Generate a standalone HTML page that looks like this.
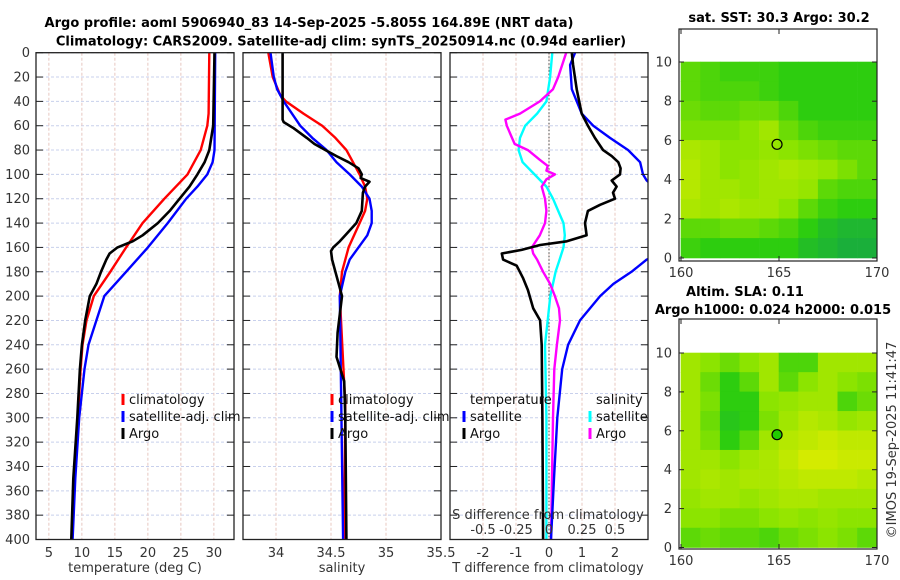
<!DOCTYPE html>
<html><head><meta charset="utf-8"><style>
body{margin:0;background:#fff;}
svg{display:block;font-family:"DejaVu Sans","Liberation Sans",sans-serif;}
.tk{font-size:13px;fill:#333;}
.tt{font-size:13px;font-weight:bold;fill:#000;}
.lg{font-size:13px;fill:#111;}
</style></head><body>
<svg id="c" width="900" height="580" viewBox="0 0 900 580"></svg>
<script>
// ---- data ----
const depthsT = [0,50,60,80,100,120,140,160,180,200,220,240,260,300,350,400];
const tempClim = [29.3,29.2,29.0,28.0,26.0,22.5,19.2,16.7,14.3,11.8,10.7,10.1,9.8,9.4,8.9,8.5];
const depthsTB = [0,80,90,100,110,120,140,160,180,200,220,240,260,300,350,400];
const tempSat = [30.2,30.1,29.8,29.0,27.5,25.8,23.0,20.0,16.7,13.4,12.2,11.0,10.4,9.6,9.0,8.6];
const depthsTA = [0,60,80,90,100,110,120,130,140,150,155,160,165,170,180,190,200,220,240,260,300,350,400];
const tempArgo = [30.1,29.9,29.3,28.6,27.5,26.3,24.8,23.3,21.5,19.2,17.7,15.4,14.2,13.7,12.9,12.2,11.2,10.5,10.0,9.7,9.3,8.7,8.4];

const depthsSC = [0,20,35,40,50,60,70,80,90,100,110,120,130,140,160,180,200,290,400];
const salClim = [33.93,33.97,34.04,34.09,34.25,34.42,34.54,34.64,34.70,34.76,34.81,34.83,34.81,34.76,34.66,34.60,34.58,34.63,34.62];
const depthsSB = [0,20,30,40,60,70,80,90,100,110,120,130,140,150,160,170,180,200,400];
const salSat = [33.95,33.98,34.01,34.07,34.22,34.33,34.46,34.55,34.67,34.78,34.85,34.87,34.87,34.83,34.75,34.67,34.63,34.58,34.61];
const depthsSA = [0,55,57,62,70,75,80,85,90,95,100,103,106,110,115,130,140,150,155,160,163,170,180,190,200,230,250,270,300,400];
const salArgo = [34.06,34.06,34.07,34.16,34.28,34.35,34.45,34.55,34.66,34.75,34.78,34.77,34.85,34.81,34.79,34.78,34.73,34.63,34.58,34.52,34.50,34.51,34.54,34.57,34.60,34.56,34.55,34.62,34.63,34.64];

const depthsDS = [0,20,40,50,60,70,80,90,100,110,120,130,140,150,160,170,180,200,220,240,300,400];
const sDiffSat = [0.025,0.008,-0.02,-0.09,-0.18,-0.22,-0.23,-0.2,-0.11,-0.02,0.03,0.07,0.11,0.12,0.11,0.08,0.05,0.01,-0.01,-0.03,-0.02,-0.02];
const depthsDSA = [0,20,30,40,50,55,60,70,75,80,88,93,97,100,104,110,120,130,140,150,160,165,170,180,190,200,210,220,240,260,300,400];
const sDiffArgo = [0.13,0.07,0.03,-0.07,-0.22,-0.33,-0.32,-0.28,-0.26,-0.16,-0.07,-0.01,-0.02,0.045,-0.02,-0.055,-0.03,-0.02,-0.03,-0.07,-0.13,-0.12,-0.09,-0.045,0.008,0.045,0.076,0.083,0.06,0.04,0.03,0.015];
const depthsDTA = [0,10,30,50,60,70,80,85,90,95,100,105,110,115,120,125,130,140,150,155,158,162,165,170,175,185,195,210,220,240,300,400];
const tDiffArgo = [0.69,0.73,0.84,0.99,1.18,1.39,1.64,1.9,2.1,2.17,2.15,1.9,2.05,1.94,2.0,1.55,1.18,1.09,1.14,0.54,-0.27,-0.83,-1.43,-1.39,-0.98,-0.79,-0.64,-0.48,-0.27,-0.22,-0.2,-0.18];
const depthsDTB = [0,10,30,50,60,70,80,90,100,105,120,150,165,170,180,190,200,220,240,260,300,350,400];
const tDiffSat = [0.79,0.64,0.69,0.99,1.34,1.85,2.4,2.76,2.85,2.96,3.6,3.8,3.4,2.96,2.5,1.95,1.55,0.94,0.58,0.4,0.25,0.15,0.06];

const depthTicks = [0,20,40,60,80,100,120,140,160,180,200,220,240,260,280,300,320,340,360,380,400];
const tempTicks = [5,10,15,20,25,30];
const salTicks = [34,34.5,35,35.5];
const tdTicks = [-2,-1,0,1,2];
const sdTicks = [-0.5,-0.25,0,0.25,0.5];
const lonTicks = [160,165,170];
const latTicks = [0,2,4,6,8,10];

const sstGrid = [
[.45,.4,.35,.35,.35,.3,.3,.3,.3,.3],
[.45,.4,.4,.4,.35,.3,.3,.3,.3,.3],
[.5,.45,.45,.5,.5,.4,.3,.3,.3,.3],
[.55,.55,.55,.6,.7,.5,.4,.35,.35,.35],
[.75,.7,.6,.6,.65,.6,.55,.5,.45,.45],
[.8,.7,.6,.65,.7,.75,.7,.65,.55,.45],
[.8,.7,.7,.65,.7,.7,.65,.45,.4,.4],
[.75,.7,.75,.7,.7,.6,.45,.35,.3,.3],
[.45,.45,.5,.5,.45,.4,.3,.2,.15,.15],
[.35,.3,.3,.3,.3,.3,.2,.15,.1,.1]];
const slaGrid = [
[.7,.6,.5,.6,.7,.4,.4,.7,.7,.7],
[.7,.5,.3,.45,.7,.45,.6,.7,.6,.55],
[.7,.55,.3,.3,.6,.65,.7,.7,.4,.5],
[.7,.5,.25,.3,.55,.7,.8,.75,.65,.7],
[.7,.55,.3,.45,.7,.8,.85,.9,.85,.85],
[.7,.7,.6,.7,.75,.85,.95,.95,.9,.9],
[.7,.75,.7,.75,.75,.8,.85,.85,.85,.8],
[.65,.7,.7,.65,.7,.75,.75,.7,.7,.7],
[.6,.6,.55,.55,.6,.65,.6,.65,.6,.6],
[.45,.5,.45,.45,.4,.5,.55,.6,.55,.45]];
const floatLon = 164.9, floatLat = 5.8;

// ---- helpers ----
const NS='http://www.w3.org/2000/svg';
const svg=document.getElementById('c');
function el(tag,attrs,parent){const e=document.createElementNS(NS,tag);for(const k in attrs)e.setAttribute(k,attrs[k]);(parent||svg).appendChild(e);return e;}
function txt(x,y,s,cls,anchor,parent){const t=el('text',{x:x,y:y,class:cls,'text-anchor':anchor||'middle'},parent);t.textContent=s;return t;}

const PT=52.7, PB=539.5;
const yD=d=>PT+(PB-PT)*d/400;
const panels=[
 {x0:36,x1:234,lo:3.05,hi:33.05,name:'temperature-panel'},
 {x0:243,x1:441,lo:33.7,hi:35.5,name:'salinity-panel'},
 {x0:450,x1:648,lo:-3,hi:3,name:'difference-panel'}];
panels.forEach(p=>{p.sx=v=>p.x0+(v-p.lo)*(p.x1-p.x0)/(p.hi-p.lo);});
const sS=v=>panels[2].sx(v*4);

const defs=el('defs',{});
panels.forEach((p,i)=>{const cp=el('clipPath',{id:'cp'+i},defs);el('rect',{x:p.x0,y:PT,width:p.x1-p.x0,height:PB-PT},cp);});

function grid(p,xticks,g){
  depthTicks.forEach(d=>{el('line',{x1:p.x0,x2:p.x1,y1:yD(d),y2:yD(d),stroke:'#c8d0ec','stroke-width':1,'stroke-dasharray':'3,2'},g);});
  xticks.forEach(v=>{const x=p.sx(v);el('line',{x1:x,x2:x,y1:PT,y2:PB,stroke:'#e8c8c0','stroke-width':1,'stroke-dasharray':'3,2'},g);});
}
function frame(p,g){
  el('rect',{x:p.x0,y:PT,width:p.x1-p.x0,height:PB-PT,fill:'none',stroke:'#222','stroke-width':1.3},g);
  depthTicks.forEach(d=>{el('line',{x1:p.x0,x2:p.x0+7,y1:yD(d),y2:yD(d),stroke:'#222'},g);el('line',{x1:p.x1-7,x2:p.x1,y1:yD(d),y2:yD(d),stroke:'#222'},g);});
}
function curve(p,sx,ds,vs,color,w,name,ci,g){
  const pts=ds.map((d,i)=>sx(vs[i]).toFixed(1)+','+yD(d).toFixed(1)).join(' ');
  const pl=el('polyline',{points:pts,fill:'none',stroke:color,'stroke-width':w,'stroke-linejoin':'round','clip-path':'url(#cp'+ci+')'},g);
  
  
}

const tg=el('g',{});

txt(309,27,'Argo profile: aoml 5906940_83 14-Sep-2025 -5.805S 164.89E (NRT data)','tt','middle',tg);
txt(341,45.5,'Climatology: CARS2009. Satellite-adj clim: synTS_20250914.nc (0.94d earlier)','tt','middle',tg);

let g=el('g',{});
let p=panels[0];grid(p,tempTicks,g);
curve(p,p.sx,depthsT,tempClim,'#ff0000',2.4,'temp-climatology-line',0,g);
curve(p,p.sx,depthsTB,tempSat,'#0000ff',2.4,'temp-satellite-line',0,g);
curve(p,p.sx,depthsTA,tempArgo,'#000',2.6,'temp-argo-line',0,g);
frame(p,g);
depthTicks.forEach(d=>txt(30,yD(d)+4.5,String(d),'tk','end',g));
tempTicks.forEach(v=>txt(p.sx(v),557,String(v),'tk','middle',g));
txt(135,572,'temperature (deg C)','tk','middle',g);
function legendEntry(x,y,color,label,name,g){
  const lg=el('g',{},g);
  el('rect',{x:x-1.5,y:y-8,width:3,height:11,fill:color},lg);txt(x+6,y+2,label,'lg','start',lg);
}
legendEntry(123,402,'#ff0000','climatology','legend-climatology',g);
legendEntry(123,419,'#0000ff','satellite-adj. clim','legend-satellite-adj',g);
legendEntry(123,436,'#000','Argo','legend-argo',g);

g=el('g',{});
p=panels[1];grid(p,salTicks,g);
curve(p,p.sx,depthsSC,salClim,'#ff0000',2.4,'sal-climatology-line',1,g);
curve(p,p.sx,depthsSB,salSat,'#0000ff',2.4,'sal-satellite-line',1,g);
curve(p,p.sx,depthsSA,salArgo,'#000',2.6,'sal-argo-line',1,g);
frame(p,g);
salTicks.forEach(v=>txt(p.sx(v),557,String(v),'tk','middle',g));
txt(342,572,'salinity','tk','middle',g);
legendEntry(332,402,'#ff0000','climatology','legend-climatology-2',g);
legendEntry(332,419,'#0000ff','satellite-adj. clim','legend-satellite-adj-2',g);
legendEntry(332,436,'#000','Argo','legend-argo-2',g);

g=el('g',{});
p=panels[2];grid(p,tdTicks,g);
el('line',{x1:p.sx(0),x2:p.sx(0),y1:PT,y2:PB,stroke:'#444','stroke-width':1,'stroke-dasharray':'1.5,2'},g);
curve(p,sS,depthsDS,sDiffSat,'#00ffff',2.4,'sdiff-satellite-line',2,g);
curve(p,sS,depthsDSA,sDiffArgo,'#ff00ff',2.4,'sdiff-argo-line',2,g);
curve(p,p.sx,depthsDTB,tDiffSat,'#0000ff',2.4,'tdiff-satellite-line',2,g);
curve(p,p.sx,depthsDTA,tDiffArgo,'#000',2.6,'tdiff-argo-line',2,g);
frame(p,g);
tdTicks.forEach(v=>txt(p.sx(v),557,String(v),'tk','middle',g));
txt(548,572,'T difference from climatology','tk','middle',g);
txt(548,519,'S difference from climatology','tk','middle',g);
sdTicks.forEach(v=>txt(sS(v),534,String(v),'tk','middle',g));
txt(470,404,'temperature','lg','start',g);
txt(596,404,'salinity','lg','start',g);
legendEntry(464,419,'#0000ff','satellite','legend-t-satellite',g);
legendEntry(464,436,'#000','Argo','legend-t-argo',g);
legendEntry(590,419,'#00ffff','satellite','legend-s-satellite',g);
legendEntry(590,436,'#ff00ff','Argo','legend-s-argo',g);

const stops=[[0,[16,160,80]],[0.3,[45,205,15]],[0.6,[140,228,0]],[1,[222,236,0]]];
function col(v){for(let i=1;i<stops.length;i++){if(v<=stops[i][0]){const a=stops[i-1],b=stops[i];const t=(v-a[0])/(b[0]-a[0]);return 'rgb('+a[1].map((c,k)=>Math.round(c+(b[1][k]-c)*t)).join(',')+')';}}return 'rgb(222,236,0)';}
function map(cfg){
  const g=el('g',{});
  const mx=lon=>681+(lon-160)*19.6;
  const my=lat=>cfg.y0-(lat)*(cfg.y0-cfg.y10)/10;
  cfg.grid.forEach((row,r)=>row.forEach((v,c)=>{
    const cell=el('rect',{x:mx(160+c)-0.3,y:my(10-r)-0.3,width:19.9,height:(my(0)-my(10))/10+0.6,fill:col(v)},g);
    
    
  }));
  el('rect',{x:679,y:cfg.top,width:198,height:cfg.bot-cfg.top,fill:'none',stroke:'#222','stroke-width':1.2},g);
  lonTicks.forEach(v=>{el('line',{x1:mx(v),x2:mx(v),y1:cfg.bot,y2:cfg.bot-5,stroke:'#222'},g);el('line',{x1:mx(v),x2:mx(v),y1:cfg.top,y2:cfg.top+5,stroke:'#222'},g);txt(mx(v),cfg.bot+16,String(v),'tk','middle',g);});
  latTicks.forEach(v=>{el('line',{x1:679,x2:684,y1:my(v),y2:my(v),stroke:'#222'},g);el('line',{x1:872,x2:877,y1:my(v),y2:my(v),stroke:'#222'},g);txt(672,my(v)+4.5,String(v),'tk','end',g);});
  const m=el('circle',{cx:mx(floatLon),cy:my(floatLat),r:5,fill:cfg.fill,stroke:'#000','stroke-width':1.2},g);
  
  
  cfg.titles.forEach((t,i)=>txt(cfg.tx[i],cfg.ty[i],t,'tt','middle',g));
}
map({name:'sst-map',grid:sstGrid,top:29,bot:261,y10:62,y0:258,fill:'none',titles:['sat. SST: 30.3 Argo: 30.2'],tx:[779],ty:[22]});
map({name:'sla-map',grid:slaGrid,top:319,bot:549,y10:353,y0:547.5,fill:'#22cc00',titles:['Altim. SLA: 0.11','Argo h1000: 0.024 h2000: 0.015'],tx:[745,773],ty:[296,314]});
const cr=txt(0,0,'©IMOS 19-Sep-2025 11:41:47','tk','middle');
cr.setAttribute('transform','translate(896,440) rotate(-90)');


</script>
</body></html>
